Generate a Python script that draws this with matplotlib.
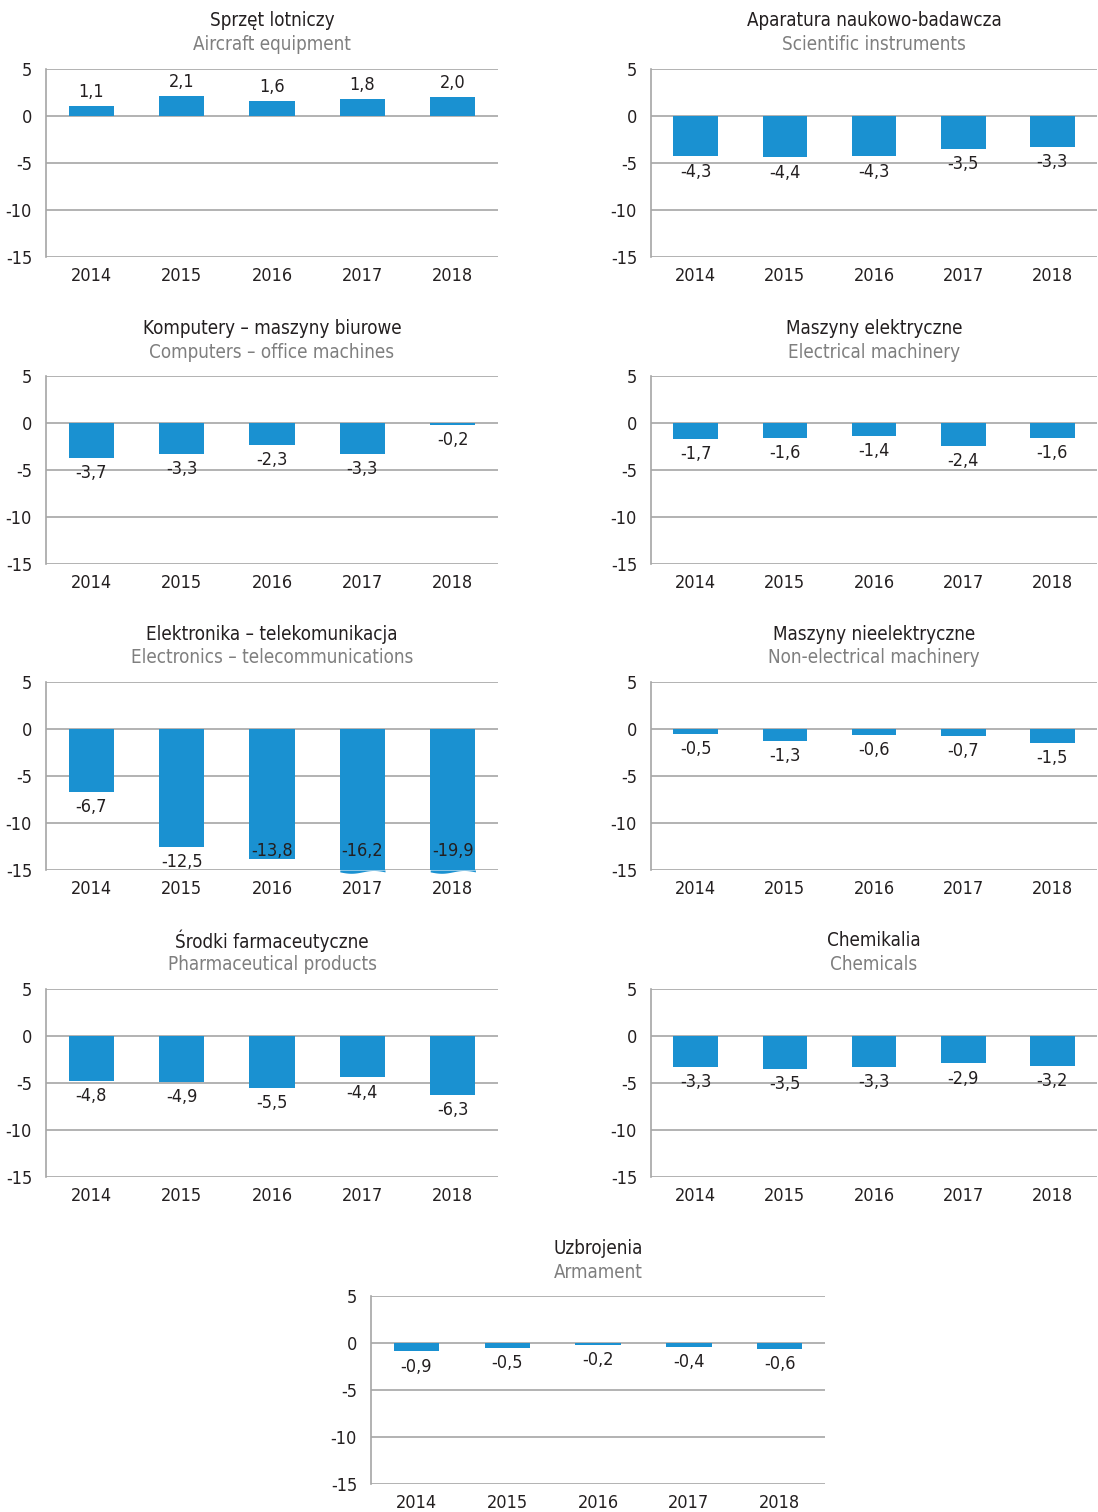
import numpy as np
import matplotlib.pyplot as plt

plt.rcParams['font.family'] = ['DejaVu Sans']
plt.rcParams['font.stretch'] = 'condensed'

years = ['2014', '2015', '2016', '2017', '2018']

titles_pl = ['Sprzęt lotniczy', 'Aparatura naukowo-badawcza',
             'Komputery – maszyny biurowe', 'Maszyny elektryczne',
             'Elektronika – telekomunikacja', 'Maszyny nieelektryczne',
             'Środki farmaceutyczne', 'Chemikalia', 'Uzbrojenia']
titles_en = ['Aircraft equipment', 'Scientific instruments',
             'Computers – office machines', 'Electrical machinery',
             'Electronics – telecommunications', 'Non-electrical machinery',
             'Pharmaceutical products', 'Chemicals', 'Armament']

aircraft = [1.1, 2.1, 1.6, 1.8, 2.0]
scientific = [-4.3, -4.4, -4.3, -3.5, -3.3]
computers = [-3.7, -3.3, -2.3, -3.3, -0.2]
electrical = [-1.7, -1.6, -1.4, -2.4, -1.6]
electronics = [-6.7, -12.5, -13.8, -16.2, -19.9]
non_electrical = [-0.5, -1.3, -0.6, -0.7, -1.5]
pharma = [-4.8, -4.9, -5.5, -4.4, -6.3]
chemicals = [-3.3, -3.5, -3.3, -2.9, -3.2]
armament = [-0.9, -0.5, -0.2, -0.4, -0.6]

series = [aircraft, scientific, computers, electrical, electronics,
          non_electrical, pharma, chemicals, armament]

W, H = 1098, 1512
BLUE = '#1a91d1'
GRID = '#a6a6a6'
TXT = '#231f20'

# axes boxes in pixels: left, top, width
boxes = [(46, 69, 452), (651, 69, 446),
         (46, 376, 452), (651, 376, 446),
         (46, 682, 452), (651, 682, 446),
         (46, 989, 452), (651, 989, 446),
         (371, 1296, 454)]
ah = 188

fig = plt.figure(figsize=(W / 100, H / 100), dpi=100)

for i, vals in enumerate(series):
    l, t, w = boxes[i]
    ax = fig.add_axes([l / W, 1 - (t + ah) / H, w / W, ah / H])
    x = np.arange(len(years))
    shown = [max(v, -15) for v in vals]
    ax.bar(x, shown, width=0.5, color=BLUE, zorder=3)
    for xi, v in zip(x, vals):
        if v < -15:
            # wavy bottom for bars cut off at the axis
            xs = np.linspace(xi - 0.25, xi + 0.25, 40)
            ys = -15.2 + 0.15 * np.sin(2 * np.pi * (xs - xi + 0.25) / 0.5 + np.pi)
            ax.fill_between(xs, -15.0, ys, color=BLUE, zorder=3, clip_on=False,
                            linewidth=0)
        lab = ('%.1f' % v).replace('.', ',')
        if v >= 0:
            ax.annotate(lab, (xi, v), xytext=(0, 10), textcoords='offset points',
                        ha='center', va='center', fontsize=13, color=TXT)
        elif v < -13:
            ax.text(xi, -13.0, lab, ha='center', va='center', fontsize=13,
                    color=TXT, zorder=4)
        else:
            ax.annotate(lab, (xi, v), xytext=(0, -11), textcoords='offset points',
                        ha='center', va='center', fontsize=13, color=TXT)
    ax.set_xlim(-0.5, 4.5)
    ax.set_ylim(-15, 5)
    ax.set_yticks([5, 0, -5, -10, -15])
    ax.set_yticklabels(['5', '0', '-5', '-10', '-15'])
    ax.set_xticks(x)
    ax.set_xticklabels(years)
    ax.grid(axis='y', color=GRID, linewidth=1.2, zorder=1)
    ax.tick_params(length=0, labelsize=13, colors=TXT)
    ax.tick_params(axis='y', pad=10)
    ax.tick_params(axis='x', pad=7)
    for s in ['top', 'right', 'bottom']:
        ax.spines[s].set_visible(False)
    ax.spines['left'].set_color(GRID)
    ax.spines['left'].set_linewidth(1.2)
    cx = (l + w / 2) / W
    fig.text(cx, 1 - (t - 48) / H, titles_pl[i], ha='center', va='center',
             fontsize=13.5, color=TXT)
    fig.text(cx, 1 - (t - 24) / H, titles_en[i], ha='center', va='center',
             fontsize=13.5, color='#7f7f7f')

fig.savefig('out.png', dpi=100)
